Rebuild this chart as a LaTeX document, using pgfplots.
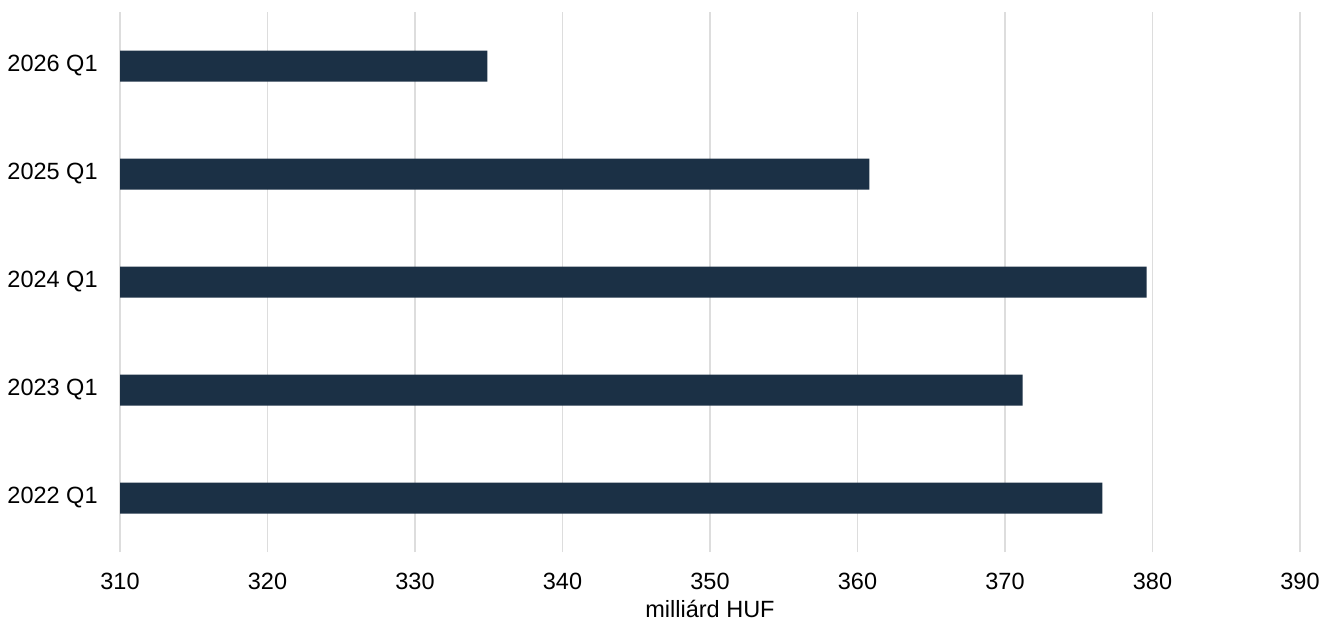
\documentclass[border=0pt]{standalone}
\usepackage{pgfplots}
\pgfplotsset{compat=1.18}
\usepackage{fontspec}
\setmainfont{Liberation Sans}
\definecolor{barblue}{HTML}{1B3045}
\definecolor{gridgray}{HTML}{DDDDDD}
\newcommand{\chartfont}{\fontsize{11.75}{14}\selectfont}
\begin{document}
\chartfont
\begin{tikzpicture}
	\begin{axis}[
			xbar,
			bar width=15.5pt,
			width=590pt,
			height=270pt,
			scale only axis,
			xmin=310, xmax=390,
			xtick={310,320,...,390},
			ymin=-0.5, ymax=4.5,
			ytick={0,1,2,3,4},
			yticklabels={2022 Q1,2023 Q1,2024 Q1,2025 Q1,2026 Q1},
			axis line style={draw=none},
			major tick length=0pt,
			xmajorgrids,
			grid style={gridgray, line width=0.7pt},
			/pgf/number format/assume math mode=true,
			/pgf/number format/1000 sep={},
			tick label style={font=\chartfont},
			xticklabel style={anchor=center, inner sep=0pt, yshift=-14.5pt},
			yticklabel style={anchor=east, inner sep=0pt, xshift=-11pt},
			xlabel={milliárd HUF},
			xlabel style={font=\chartfont, anchor=center, inner sep=0pt,
				at={(axis description cs:0.5,0)}, yshift=-28.5pt},
		]
		\addplot [draw=none, fill=barblue] coordinates {
			(376.6,0)
			(371.2,1)
			(379.6,2)
			(360.8,3)
			(334.9,4)
		};
	\end{axis}
	\path (current axis.south west) ++(-60pt,-37.5pt) rectangle ([shift={(16.5pt,6pt)}]current axis.north east);
\end{tikzpicture}
\end{document}
